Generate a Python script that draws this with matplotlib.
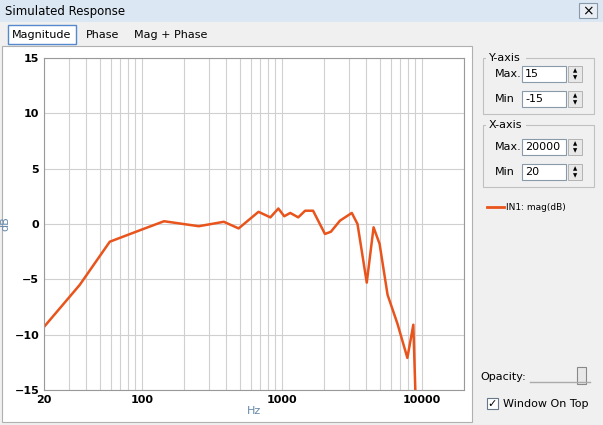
import matplotlib
matplotlib.use("Agg")
import matplotlib.pyplot as plt
from matplotlib.patches import Rectangle
from matplotlib.lines import Line2D

freq = [20, 36, 59, 100, 144, 255, 385, 491, 681, 828, 944, 1040, 1148, 1309, 1466, 1671,
        2032, 2240, 2600, 3160, 3470, 4040, 4520, 4990, 5690, 6690, 7880, 8690, 8980]
mag = [-9.3, -5.5, -1.6, -0.5, 0.25, -0.2, 0.2, -0.4, 1.1, 0.6, 1.4, 0.7, 1.0, 0.6, 1.2, 1.2,
       -0.9, -0.7, 0.3, 1.0, 0.0, -5.3, -0.3, -1.8, -6.4, -9.0, -12.1, -9.1, -15.0]
xticks = [20, 100, 1000, 10000]
yticks = [-15, -10, -5, 0, 5, 10, 15]

W, H = 603, 425
fig = plt.figure(figsize=(W/100, H/100), dpi=100, facecolor='#f0f0f0')

def px(x, y, w, h, z=1, **kw):
    fig.patches.append(Rectangle((x/W, 1-(y+h)/H), w/W, h/H, transform=fig.transFigure, zorder=z, **kw))

def tx(x, y, s, **kw):
    fig.text(x/W, 1-y/H, s, **kw)

# window frame / title bar
px(0, 0, W, 22, facecolor='#dce7f4', edgecolor='none')
tx(5, 11, 'Simulated Response', fontsize=8.5, va='center')
px(579, 3, 18, 15, facecolor='#e9eef5', edgecolor='#8899aa', lw=0.8)
tx(588, 11, '×', fontsize=10, ha='center', va='center')
# tabs
px(8, 25, 68, 19, facecolor='white', edgecolor='#5588cc', lw=1)
tx(42, 35, 'Magnitude', fontsize=8, ha='center', va='center')
tx(103, 35, 'Phase', fontsize=8, ha='center', va='center')
tx(171, 35, 'Mag + Phase', fontsize=8, ha='center', va='center')
# chart region (behind axes)
px(2, 46, 470, 376, z=-1, facecolor='white', edgecolor='#b0b0b0', lw=0.8)

ax = fig.add_axes([44/W, (H-390)/H, 420/W, 332/H])
ax.set_zorder(5)
ax.set_facecolor('white')
ax.plot(freq, mag, color='#e8541c', lw=1.8)
ax.set_xscale('log')
ax.set_xlim(20, 20000)
ax.set_ylim(-15, 15)
ax.set_xticks(xticks)
ax.set_xticklabels([str(t) for t in xticks])
ax.set_yticks(yticks)
ax.grid(True, which='both', color='#d0d0d0', lw=0.8)
ax.tick_params(which='both', labelsize=8, length=0)
for l in ax.get_xticklabels() + ax.get_yticklabels():
    l.set_fontweight('bold')
for s in ax.spines.values():
    s.set_color('#999999')
ax.set_xlabel('Hz', fontsize=8, color='#6688aa', labelpad=1)
ax.set_ylabel('dB', fontsize=8, color='#6688aa', labelpad=3)

# right panel
def group(y, h, title):
    px(483, y, 111, h, facecolor='none', edgecolor='#c0c0c0', lw=0.8)
    px(486, y-6, 40, 11, facecolor='#f0f0f0', edgecolor='none')
    tx(489, y, title, fontsize=8, va='center')

def spin(y, label, val):
    tx(495, y, label, fontsize=8, va='center')
    px(522, y-8, 44, 16, facecolor='white', edgecolor='#8899aa', lw=0.8)
    tx(525, y, val, fontsize=8, va='center')
    px(568, y-8, 14, 16, facecolor='#e8e8e8', edgecolor='#aaaaaa', lw=0.6)
    tx(575, y-3, '▲', fontsize=4, ha='center', va='center')
    tx(575, y+4, '▼', fontsize=4, ha='center', va='center')

group(58, 56, 'Y-axis')
spin(74, 'Max.', '15')
spin(99, 'Min', '-15')
group(125, 62, 'X-axis')
spin(147, 'Max.', '20000')
spin(172, 'Min', '20')
fig.lines.append(Line2D([487/W, 504/W], [1-207/H, 1-207/H], transform=fig.transFigure,
                        color='#e8541c', lw=2))
tx(506, 207, 'IN1: mag(dB)', fontsize=6.5, va='center')
tx(480, 377, 'Opacity:', fontsize=8, va='center')
fig.lines.append(Line2D([530/W, 590/W], [1-382/H, 1-382/H], transform=fig.transFigure,
                        color='#aaaaaa', lw=1))
px(577, 367, 9, 17, facecolor='#e8e8e8', edgecolor='#888888', lw=0.8)
px(487, 398, 11, 11, facecolor='white', edgecolor='#667788', lw=0.8)
tx(492.5, 404, '✓', fontsize=8, ha='center', va='center')
tx(503, 404, 'Window On Top', fontsize=8, va='center')

fig.savefig('out.png', dpi=100, facecolor=fig.get_facecolor())
